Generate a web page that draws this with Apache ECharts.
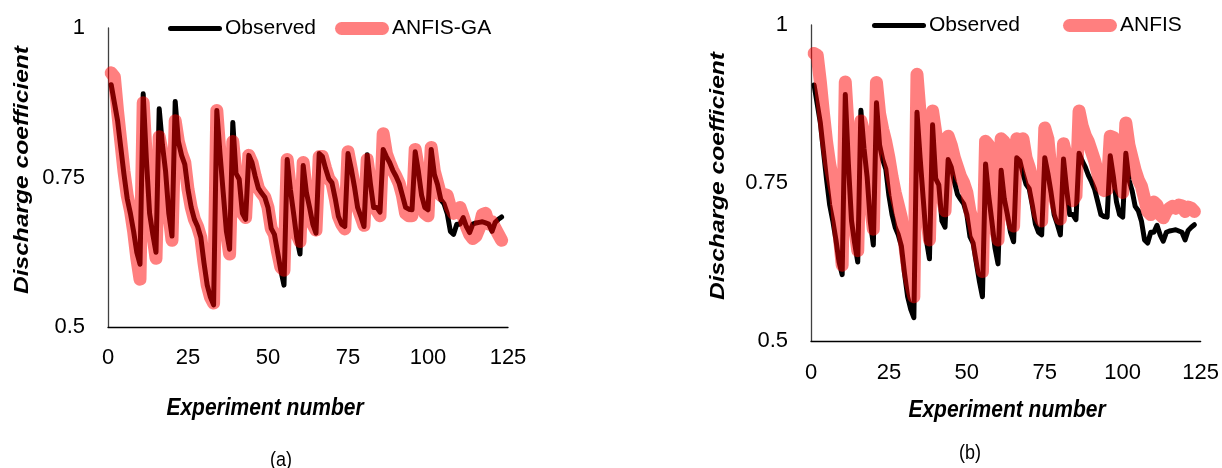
<!DOCTYPE html>
<html>
<head>
<meta charset="utf-8">
<script src="https://cdn.jsdelivr.net/npm/echarts@6/dist/echarts.min.js"></script>
<style>
html,body{margin:0;padding:0;background:#fff;}
#chart{width:1222px;height:468px;}
</style>
</head>
<body>
<div id="chart"></div>
<script>
// Experiment numbers
const experimentNo = [1,2,3,4,5,6,7,8,9,10,11,12,13,14,15,16,17,18,19,20,21,22,23,24,25,26,27,28,29,30,31,32,33,34,35,36,37,38,39,40,41,42,43,44,45,46,47,48,49,50,51,52,53,54,55,56,57,58,59,60,61,62,63,64,65,66,67,68,69,70,71,72,73,74,75,76,77,78,79,80,81,82,83,84,85,86,87,88,89,90,91,92,93,94,95,96,97,98,99,100,101,102,103,104,105,106,107,108,109,110,111,112,113,114,115,116,117,118,119,120,121,122,123];

// Observed discharge coefficient
const observed = [0.905,0.875,0.845,0.80,0.755,0.715,0.69,0.66,0.625,0.605,
0.89,0.78,0.69,0.655,0.625,0.865,0.805,0.76,0.69,0.652,
0.877,0.81,0.787,0.772,0.73,0.70,0.68,0.668,0.65,0.607,
0.57,0.55,0.537,0.862,0.79,0.725,0.66,0.63,0.842,0.757,
0.747,0.69,0.68,0.787,0.775,0.752,0.732,0.724,0.717,0.70,
0.665,0.655,0.625,0.595,0.57,0.78,0.73,0.69,0.648,0.622,
0.77,0.725,0.70,0.672,0.657,0.79,0.785,0.765,0.748,0.741,
0.715,0.685,0.672,0.668,0.79,0.765,0.735,0.70,0.685,0.668,
0.788,0.74,0.70,0.70,0.692,0.797,0.785,0.775,0.762,0.752,
0.74,0.72,0.70,0.697,0.696,0.793,0.76,0.72,0.70,0.696,
0.797,0.755,0.738,0.713,0.706,0.69,0.66,0.655,0.672,0.672,
0.683,0.668,0.658,0.672,0.674,0.675,0.676,0.674,0.672,0.66,
0.675,0.68,0.684];

// ANFIS-GA predictions (panel a)
const anfisGA = [0.925,0.918,0.86,0.81,0.76,0.72,0.695,0.66,0.615,0.58,
0.875,0.78,0.69,0.655,0.615,0.818,0.79,0.76,0.69,0.645,
0.845,0.81,0.79,0.775,0.73,0.70,0.68,0.668,0.65,0.607,
0.57,0.55,0.54,0.862,0.79,0.725,0.66,0.622,0.81,0.757,
0.747,0.69,0.683,0.787,0.775,0.752,0.732,0.724,0.717,0.70,
0.665,0.655,0.625,0.60,0.595,0.78,0.73,0.69,0.655,0.643,
0.775,0.725,0.70,0.672,0.662,0.785,0.785,0.765,0.748,0.741,
0.715,0.685,0.672,0.664,0.793,0.765,0.735,0.70,0.685,0.67,
0.78,0.74,0.70,0.695,0.686,0.823,0.79,0.775,0.762,0.752,
0.74,0.72,0.69,0.686,0.686,0.797,0.765,0.72,0.69,0.686,
0.80,0.76,0.74,0.72,0.722,0.72,0.70,0.69,0.695,0.70,
0.685,0.668,0.655,0.648,0.652,0.665,0.688,0.69,0.672,0.676,
0.665,0.655,0.645];

// ANFIS predictions (panel b)
const anfis = [0.955,0.952,0.91,0.86,0.815,0.78,0.755,0.73,0.67,0.62,
0.91,0.83,0.73,0.68,0.643,0.848,0.83,0.79,0.72,0.677,
0.909,0.86,0.835,0.815,0.79,0.76,0.735,0.715,0.695,0.655,
0.615,0.59,0.57,0.922,0.86,0.78,0.70,0.66,0.864,0.83,
0.80,0.73,0.706,0.824,0.81,0.79,0.775,0.76,0.75,0.735,
0.705,0.69,0.665,0.635,0.61,0.816,0.81,0.72,0.68,0.66,
0.82,0.815,0.735,0.70,0.682,0.82,0.815,0.82,0.79,0.775,
0.755,0.725,0.70,0.69,0.837,0.82,0.77,0.73,0.71,0.693,
0.812,0.79,0.75,0.722,0.73,0.864,0.84,0.825,0.815,0.80,
0.785,0.765,0.745,0.738,0.74,0.824,0.822,0.78,0.745,0.735,
0.845,0.81,0.79,0.77,0.755,0.745,0.725,0.705,0.70,0.72,
0.715,0.70,0.695,0.705,0.71,0.713,0.71,0.715,0.714,0.705,
0.712,0.71,0.705];

// Axis ticks
const xTicks = [0, 25, 50, 75, 100, 125];
const yTicks = [0.5, 0.75, 1];

const FONT = '"Liberation Sans", Arial, sans-serif';
const pair = arr => arr.map((v, i) => [experimentNo[i], v]);

function xAxisCfg(gridIndex, margin) {
  return {
    type: 'value', gridIndex, min: xTicks[0], max: xTicks[xTicks.length - 1],
    interval: xTicks[1] - xTicks[0],
    axisLine: { show: true, lineStyle: { color: '#000', width: 1.3 } },
    axisTick: { show: false }, splitLine: { show: false },
    axisLabel: { margin, fontSize: 22, color: '#000', fontFamily: FONT }
  };
}
function yAxisCfg(gridIndex) {
  return {
    type: 'value', gridIndex, min: yTicks[0], max: yTicks[yTicks.length - 1],
    interval: yTicks[1] - yTicks[0],
    axisLine: { show: true, lineStyle: { color: '#404040', width: 1.3 } },
    axisTick: { show: false }, splitLine: { show: false },
    axisLabel: { margin: 23, fontSize: 22, color: '#000', fontFamily: FONT,
      formatter: v => String(v) }
  };
}
const PINK = 'rgba(255,0,0,0.5)';
const blackLine = { color: '#000', width: 5, join: 'round', cap: 'round' };
const pinkLine = { color: PINK, width: 13, join: 'round', cap: 'round' };

const ICON_BLACK = 'path://M2.5,0 L51.5,0 A2.5,2.5 0 0 1 51.5,5 L2.5,5 A2.5,2.5 0 0 1 2.5,0 Z';
const ICON_PINK = 'path://M6.5,0 L47.5,0 A6.5,6.5 0 0 1 47.5,13 L6.5,13 A6.5,6.5 0 0 1 6.5,0 Z';

function legendCfg(name, left, top, icon, h) {
  return {
    data: [{ name, icon }], left, top, padding: 0, itemWidth: 54, itemHeight: h, itemGap: 0,
    symbolKeepAspect: false,
    textStyle: { fontSize: 21, color: '#000', fontFamily: FONT, padding: [0, 0, 0, -2] },
    selectedMode: false
  };
}

const chart = echarts.init(document.getElementById('chart'), null, { renderer: 'canvas' });
chart.setOption({
  animation: false,
  backgroundColor: '#fff',
  grid: [
    { left: 108, top: 28, width: 400, height: 299 },
    { left: 811, top: 25, width: 391, height: 316 }
  ],
  xAxis: [xAxisCfg(0, 20), xAxisCfg(1, 21)],
  yAxis: [yAxisCfg(0), yAxisCfg(1)],
  legend: [
    legendCfg('Observed', 168, 18, ICON_BLACK, 5),
    legendCfg('ANFIS-GA', 335, 18, ICON_PINK, 13),
    legendCfg('Observed', 872, 15, ICON_BLACK, 5),
    legendCfg('ANFIS', 1063, 15, ICON_PINK, 13)
  ],
  series: [
    { name: 'Observed', type: 'line', xAxisIndex: 0, yAxisIndex: 0, data: pair(observed),
      symbol: 'none', showSymbol: false, lineStyle: blackLine, itemStyle: { color: '#000' } },
    { name: 'ANFIS-GA', type: 'line', xAxisIndex: 0, yAxisIndex: 0, data: pair(anfisGA),
      symbol: 'none', showSymbol: false, lineStyle: pinkLine, itemStyle: { color: PINK } },
    { name: 'Observed', type: 'line', xAxisIndex: 1, yAxisIndex: 1, data: pair(observed),
      symbol: 'none', showSymbol: false, lineStyle: blackLine, itemStyle: { color: '#000' } },
    { name: 'ANFIS', type: 'line', xAxisIndex: 1, yAxisIndex: 1, data: pair(anfis),
      symbol: 'none', showSymbol: false, lineStyle: pinkLine, itemStyle: { color: PINK } }
  ],
  graphic: [
    { type: 'text', x: 22, y: 170, rotation: Math.PI / 2, scaleX: 1.17,
      style: { text: 'Discharge coefficient', align: 'center', verticalAlign: 'middle',
        font: 'italic bold 21px ' + FONT, fill: '#000' } },
    { type: 'text', x: 718, y: 176, rotation: Math.PI / 2, scaleX: 1.17,
      style: { text: 'Discharge coefficient', align: 'center', verticalAlign: 'middle',
        font: 'italic bold 21px ' + FONT, fill: '#000' } },
    { type: 'text', x: 265, y: 408, scaleY: 1.15,
      style: { text: 'Experiment number', align: 'center', verticalAlign: 'middle',
        font: 'italic bold 21px ' + FONT, fill: '#000' } },
    { type: 'text', x: 1007, y: 410, scaleY: 1.15,
      style: { text: 'Experiment number', align: 'center', verticalAlign: 'middle',
        font: 'italic bold 21px ' + FONT, fill: '#000' } },
    { type: 'text', x: 281, y: 460, scaleY: 1.15,
      style: { text: '(a)', align: 'center', verticalAlign: 'middle',
        font: '18px ' + FONT, fill: '#000' } },
    { type: 'text', x: 970, y: 453, scaleY: 1.15,
      style: { text: '(b)', align: 'center', verticalAlign: 'middle',
        font: '18px ' + FONT, fill: '#000' } }
  ]
});
</script>
</body>
</html>
